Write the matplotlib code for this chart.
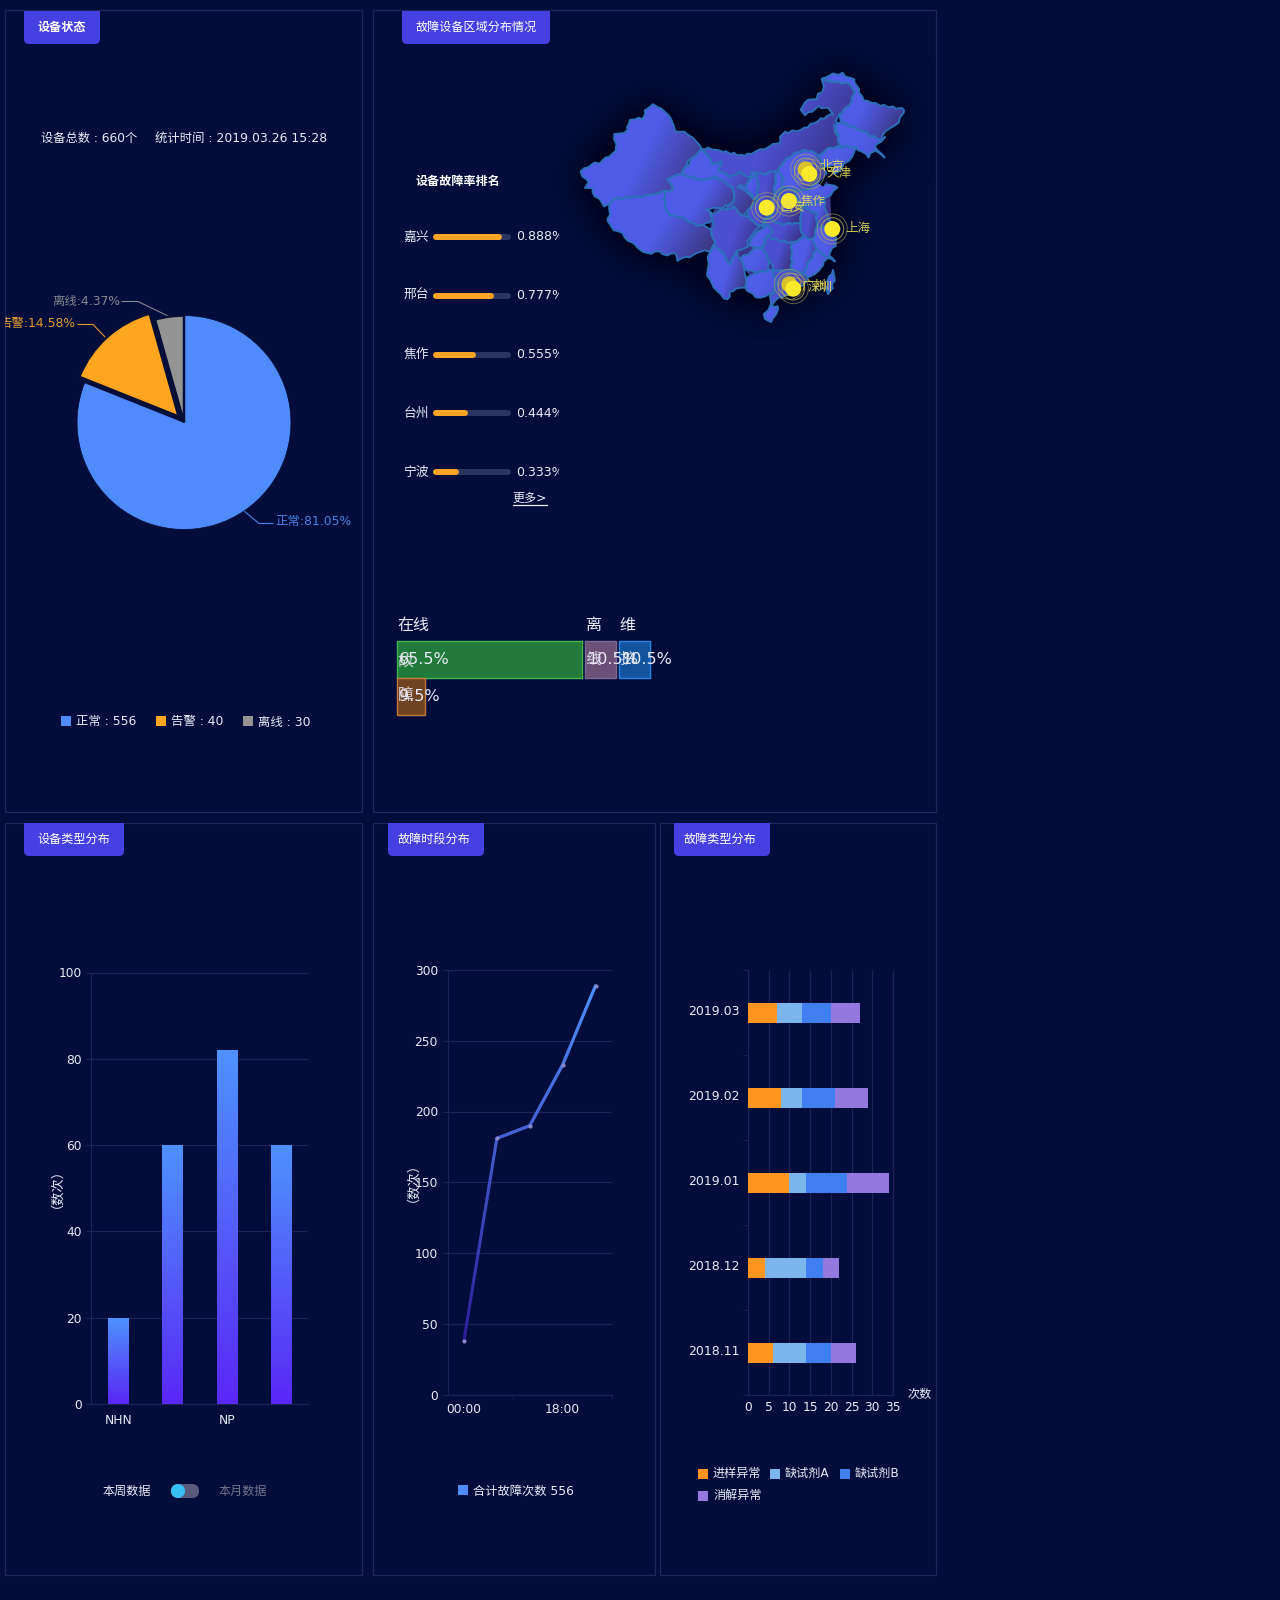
#!/usr/bin/env python3
# -*- coding: utf-8 -*-
import numpy as np
import matplotlib
matplotlib.use("Agg")
import matplotlib.pyplot as plt
from matplotlib.collections import LineCollection
from matplotlib.colors import LinearSegmentedColormap
from matplotlib.patches import Circle, FancyBboxPatch, Polygon, Rectangle
from matplotlib.path import Path

plt.rcParams['font.family'] = ['DejaVu Sans', 'Noto Sans CJK SC']

# pie
status_names = ['正常', '告警', '离线']
status_pct = [81.05, 14.58, 4.37]
status_counts = [556, 40, 30]
status_colors = ['#4f8bfa', '#ffa51f', '#949494']

# failure rate ranking
rank_cities = ['嘉兴', '邢台', '焦作', '台州', '宁波']
rank_values = [0.888, 0.777, 0.555, 0.444, 0.333]

# tiles
tile_rows = [[('在线', 65.5), ('离线', 10.5), ('维护', 10.5)], [('故障', 9.5)]]

# device types
type_names = ['NHN', '', 'NP', '']
type_values = [20, 60, 82, 60]

# failure time
hour_labels = ['00:00', '', '', '18:00', '']
hour_values = [38, 181, 190, 233, 289]

# failure types
months = ['2018.11', '2018.12', '2019.01', '2019.02', '2019.03']
fault_names = ['进样异常', '缺试剂A', '缺试剂B', '消解异常']
fault_colors = ['#ff951f', '#7cb5ec', '#3f7ff0', '#9478dd']
fault_a = [6, 4, 10, 8, 7]
fault_b = [8, 10, 4, 5, 6]
fault_c = [6, 4, 10, 8, 7]
fault_d = [6, 4, 10, 8, 7]

# map outlines, traced by hand in map units (1 unit = 1/3 px)
provinces = {
    'xinjiang': [(65, 365), (95, 342), (120, 338), (170, 305), (163, 255), (200, 242), (210, 208), (250, 205), (257, 180), (280, 162), (315, 185), (340, 215), (342, 242), (385, 250), (410, 275), (423, 298), (400, 325), (385, 335), (363, 372), (325, 385), (340, 418), (315, 425), (285, 430), (260, 438), (210, 442), (175, 445), (150, 462), (135, 468), (105, 440), (95, 418), (75, 415), (85, 400), (70, 382)],
    'tibet': [(150, 462), (175, 445), (210, 442), (260, 438), (285, 430), (315, 425), (313, 460), (330, 495), (375, 505), (410, 528), (430, 525), (455, 540), (463, 580), (450, 605), (420, 602), (400, 615), (355, 630), (345, 610), (310, 615), (300, 605), (260, 610), (235, 595), (195, 560), (175, 545), (150, 530), (140, 515), (150, 495), (145, 475)],
    'qinghai': [(325, 385), (363, 372), (430, 392), (465, 378), (515, 410), (525, 440), (510, 465), (475, 475), (445, 478), (460, 510), (430, 525), (410, 528), (375, 505), (330, 495), (313, 460), (315, 425), (340, 418)],
    'gansu': [(363, 372), (390, 335), (423, 298), (445, 315), (455, 345), (485, 332), (477, 360), (510, 382), (540, 368), (575, 385), (555, 408), (590, 452), (565, 480), (548, 495), (520, 472), (497, 478), (510, 465), (525, 440), (515, 410), (465, 378), (430, 392)],
    'neimeng': [(423, 298), (445, 295), (555, 318), (600, 300), (660, 275), (665, 250), (720, 240), (780, 208), (822, 190), (800, 175), (775, 170), (735, 195), (722, 182), (735, 155), (770, 145), (790, 115), (788, 90), (810, 92), (860, 100), (885, 120), (870, 165), (835, 195), (828, 222), (835, 270), (845, 290), (800, 295), (775, 315), (745, 300), (700, 310), (650, 360), (615, 372), (590, 368), (575, 385), (540, 368), (510, 382), (477, 360), (485, 332), (455, 345), (445, 315)],
    'heilongjiang': [(790, 88), (810, 75), (845, 70), (880, 90), (895, 120), (910, 150), (960, 165), (1035, 178), (1015, 215), (1000, 225), (970, 255), (960, 270), (930, 255), (890, 235), (840, 215), (835, 195), (870, 165), (885, 120), (860, 100), (810, 95)],
    'jilin': [(820, 228), (840, 215), (890, 235), (930, 255), (960, 270), (972, 262), (945, 292), (972, 320), (942, 300), (925, 325), (905, 305), (885, 290), (845, 290), (835, 270)],
    'liaoning': [(775, 315), (800, 295), (845, 290), (885, 290), (880, 322), (850, 345), (825, 375), (812, 350), (785, 345)],
    'hebei': [(650, 360), (700, 310), (745, 300), (775, 315), (785, 345), (800, 375), (775, 400), (740, 420), (700, 420), (665, 412), (670, 385)],
    'shanxi': [(650, 360), (670, 385), (665, 412), (655, 440), (640, 440), (645, 400)],
    'shandong': [(740, 420), (775, 400), (805, 405), (835, 410), (790, 450), (725, 470), (700, 420)],
    'shaanxi': [(590, 368), (615, 372), (650, 360), (645, 400), (640, 440), (625, 460), (640, 490), (600, 530), (565, 500), (565, 480), (590, 452), (595, 420)],
    'ningxia': [(555, 408), (575, 385), (575, 365), (590, 368), (595, 420), (590, 452), (565, 430), (532, 408)],
    'henan': [(640, 440), (665, 412), (700, 420), (725, 470), (720, 520), (660, 522), (620, 500), (640, 490), (625, 460)],
    'sichuan': [(440, 480), (460, 490), (497, 478), (520, 472), (548, 495), (565, 500), (600, 530), (570, 560), (560, 590), (530, 600), (510, 640), (490, 610), (465, 590), (450, 605), (463, 580), (455, 540), (460, 510)],
    'chongqing': [(570, 565), (600, 540), (625, 525), (640, 540), (620, 560), (605, 595), (585, 595), (565, 585)],
    'guizhou': [(540, 625), (570, 605), (590, 590), (610, 595), (625, 625), (625, 660), (590, 668), (550, 655)],
    'yunnan': [(450, 605), (465, 590), (490, 610), (510, 640), (530, 605), (540, 625), (550, 655), (560, 680), (555, 710), (510, 725), (505, 750), (480, 735), (455, 705), (440, 680), (445, 660), (445, 625)],
    'hubei': [(600, 530), (620, 500), (660, 522), (720, 520), (730, 560), (695, 578), (650, 570), (625, 560), (640, 540), (625, 525)],
    'hunan': [(620, 560), (650, 570), (695, 578), (695, 660), (640, 662), (625, 625), (610, 595)],
    'jiangxi': [(695, 578), (730, 560), (760, 570), (770, 600), (745, 640), (730, 670), (695, 660)],
    'anhui': [(725, 470), (770, 490), (770, 530), (760, 570), (730, 560), (720, 520)],
    'jiangsu': [(725, 470), (790, 450), (805, 505), (815, 530), (770, 530), (770, 490)],
    'zhejiang': [(770, 530), (815, 530), (830, 575), (805, 618), (828, 634), (800, 622), (770, 600), (760, 570)],
    'fujian': [(770, 600), (800, 622), (780, 660), (745, 685), (730, 670), (745, 640)],
    'guangxi': [(560, 680), (590, 668), (625, 660), (640, 662), (650, 700), (640, 730), (590, 745), (555, 710)],
    'guangdong': [(640, 662), (695, 660), (730, 670), (745, 685), (700, 730), (655, 745), (630, 772), (632, 740), (650, 700)],
    'hainan': [(612, 790), (630, 770), (655, 768), (650, 790), (630, 815), (615, 808)],
    'taiwan': [(800, 725), (805, 680), (822, 660), (825, 680), (812, 725), (805, 733)],
}
bright_regions = ['ningxia', 'chongqing', 'guizhou', 'hainan', 'taiwan', 'shanxi', 'shandong', 'zhejiang', 'fujian', 'guangxi', 'liaoning', 'jilin']
dark_regions = ['hunan', 'hubei', 'shaanxi', 'henan', 'anhui', 'neimeng', 'sichuan', 'guangdong']
bohai = [(812, 350), (825, 345), (810, 372), (790, 410), (775, 400), (800, 375)]
map_backing = [(480, 400), (650, 350), (780, 340), (810, 420), (815, 530), (770, 620), (700, 700), (590, 700), (520, 620), (450, 530)]

# map points
city_names = ['北京', '天津', '焦作', '西安', '上海', '广州', '深圳']
city_x = [737, 748, 687, 620, 817, 688, 700]
city_y = [358, 372, 453, 473, 537, 703, 716]
city_label_x = [780, 798, 722, 662, 855, 724, 742]
city_label_y = [350, 371, 453, 472, 535, 708, 714]

BG = '#020d3b'
LINE = '#1d2358'
TXT = '#e8eaf6'

fig = plt.figure(figsize=(12.8, 16), dpi=100, facecolor=BG)
W, H = 1280.0, 1600.0


def px_axes(l, t, r, b, **kw):
    ax = fig.add_axes([l / W, 1 - b / H, (r - l) / W, (b - t) / H], **kw)
    ax.patch.set_alpha(0)
    return ax


def style_axes(ax):
    for s in ['top', 'right']:
        ax.spines[s].set_visible(False)
    for s in ['left', 'bottom']:
        ax.spines[s].set_color(LINE)
    ax.tick_params(which='both', colors=LINE, labelcolor=TXT, labelsize=8.8)


def jag(verts):
    # roughen a traced outline; the offset depends on position only so shared borders stay together
    out = []
    n = len(verts)
    for i in range(n):
        x0, y0 = verts[i]
        x1, y1 = verts[(i + 1) % n]
        steps = max(1, int(np.hypot(x1 - x0, y1 - y0) / 11))
        for k in range(steps):
            x = x0 + (x1 - x0) * k / steps
            y = y0 + (y1 - y0) * k / steps
            out.append((x + 3.2 * np.sin(0.31 * y + 0.17 * x), y + 3.2 * np.sin(0.29 * x - 0.19 * y)))
    return out


bg = px_axes(0, 0, W, H)
bg.set_xlim(0, W)
bg.set_ylim(H, 0)
bg.axis('off')

# panels and tabs
panels = [(5, 10, 362, 811.5), (373, 10, 936, 811.5), (5, 822.5, 362, 1575), (373, 822.5, 655, 1575), (660, 822.5, 936, 1575)]
for l, t, r, b in panels:
    bg.add_patch(Rectangle((l, t), r - l, b - t, fc='none', ec='#20265c', lw=0.9))

tabs = [(24, 100, 11, '设备状态', 'bold', 0), (402, 550, 11, '故障设备区域分布情况', 'normal', 0), (24, 124, 823, '设备类型分布', 'normal', 0),
        (388, 484, 823, '故障时段分布', 'normal', -2), (674, 770, 823, '故障类型分布', 'normal', -2)]
for l, r, t, name, weight, dx in tabs:
    clip = Rectangle((l - 2, t), r - l + 4, 40, transform=bg.transData)
    tab = FancyBboxPatch((l + 5, t - 12), r - l - 10, 40, boxstyle='round,pad=5', fc='#4540e2', ec='none')
    bg.add_patch(tab)
    tab.set_clip_path(clip)
    bg.text((l + r) / 2 + dx, t + 16.5, name, color='white', fontsize=8.7, ha='center', va='center', fontweight=weight)

# device status
bg.text(41, 138, '设备总数 : 660个', color=TXT, fontsize=8.8, va='center')
bg.text(155, 138, '统计时间 : 2019.03.26 15:28', color=TXT, fontsize=8.9, va='center')

ax_pie = px_axes(184 - 139, 422.5 - 139, 184 + 139, 422.5 + 139)
wedges, _ = ax_pie.pie(status_pct, colors=status_colors, startangle=90, counterclock=False, radius=1,
                       explode=[0, 0.075, 0], wedgeprops={'edgecolor': '#080f36', 'linewidth': 1.8})
wedges[0].set_edgecolor(BG)
wedges[0].set_linewidth(0.5)
ax_pie.set_xlim(-1.3, 1.3)
ax_pie.set_ylim(-1.3, 1.3)
ax_pie.set_aspect('equal')

label_colors = ['#4a80e4', '#e39a30', '#85858f']
label_lines = [[(244, 511), (259, 523.5), (273, 523.5)], [(78, 324.5), (93, 324.5), (106, 338)], [(122, 301.5), (138, 301.5), (168, 316)]]
label_pos = [(275, 522, 'left'), (75, 324, 'right'), (120, 301, 'right')]
panel_clip = Rectangle((5, 10), 357, 800, transform=bg.transData)
for i in range(3):
    xs, ys = zip(*label_lines[i])
    bg.plot(xs, ys, color=label_colors[i], lw=0.8)
    t = bg.text(label_pos[i][0], label_pos[i][1], '%s:%.2f%%' % (status_names[i], status_pct[i]), color=label_colors[i],
                fontsize=8.9, ha=label_pos[i][2], va='center', clip_on=True)
    t.set_clip_path(panel_clip)

legend_x = [61, 156, 243]
for i in range(3):
    bg.add_patch(Rectangle((legend_x[i], 716), 10, 10, fc=status_colors[i], ec='none'))
    bg.text(legend_x[i] + 15, 722, '%s : %d' % (status_names[i], status_counts[i]), color=TXT, fontsize=8.9, va='center')

# ranking
bg.text(416, 181, '设备故障率排名', color='white', fontsize=8.7, fontweight='bold', va='center')
ax_rank = px_axes(433, 207.5, 511, 501.5)
ax_rank.set_xlim(0, 1)
ax_rank.set_ylim(4.5, -0.5)
ax_rank.axis('off')
rank_clip = Rectangle((380, 200), 179, 310, transform=bg.transData)
cap = 3.0 / 78
for i, v in enumerate(rank_values):
    ax_rank.plot([cap, 1 - cap], [i, i], color='#2b3562', lw=4.3, solid_capstyle='round')
    ax_rank.plot([cap, v - cap], [i, i], color='#ffa526', lw=4.3, solid_capstyle='round')
    ax_rank.text(-0.055, i, rank_cities[i], color=TXT, fontsize=9.2, ha='right', va='center')
    t = ax_rank.text(1.065, i, '%.3f%%' % v, color=TXT, fontsize=9, va='center', clip_on=True)
    t.set_clip_path(rank_clip)
bg.text(512.5, 498.5, '更多>', color=TXT, fontsize=8.7, va='center')
bg.plot([513, 547], [504.5, 504.5], color=TXT, lw=0.9)

# map
ax_map = px_axes(540, 30, 936, 340)
mx0, mx1, my0, my1 = -60, 1128, 870, -60
gx, gy = np.meshgrid(np.linspace(mx0, mx1, 240), np.linspace(my1, my0, 190))
pts = np.column_stack([gx.ravel(), gy.ravel()])
mask = np.zeros(gx.shape)
for verts in provinces.values():
    mask = np.maximum(mask, Path(verts + [verts[0]]).contains_points(pts).reshape(gx.shape).astype(float))
kx = np.exp(-0.5 * (np.arange(-42, 43) / 14.0) ** 2)
kx = kx / kx.sum()
glow = np.apply_along_axis(lambda r: np.convolve(r, kx, mode='same'), 1, mask)
glow = np.apply_along_axis(lambda r: np.convolve(r, kx, mode='same'), 0, glow)
rgba = np.zeros(gx.shape + (4,))
rgba[..., :3] = np.array([0, 3, 30]) / 255.0
rgba[..., 3] = np.clip(glow * 2.2, 0, 0.92)
ax_map.imshow(rgba, extent=(mx0, mx1, my0, my1), origin='upper', aspect='auto', zorder=1, interpolation='bilinear')
ax_map.add_patch(Polygon(map_backing, closed=True, fc='#3b3590', ec='none', zorder=1.5))

ramp = np.linspace(0, 1, 200)
gx2, gy2 = np.meshgrid(ramp, ramp)
for name, verts in provinces.items():
    rough = jag(verts)
    xs = [p[0] for p in rough]
    ys = [p[1] for p in rough]
    if name in bright_regions:
        low, high = '#4f5ee8', '#4a4fd0'
    elif name in dark_regions:
        low, high = '#4a50cf', '#352a6e'
    else:
        low, high = '#4f5ce8', '#38306f'
    cmap = LinearSegmentedColormap.from_list(name, [low, low, high])
    ax_map.add_patch(Polygon(rough, closed=True, fc='none', ec='#2d70ba', lw=1.35, zorder=3, joinstyle='round'))
    im = ax_map.imshow(0.7 * gx2 + 0.3 * gy2, extent=(min(xs), max(xs), max(ys), min(ys)), cmap=cmap, origin='upper',
                       aspect='auto', zorder=2, vmin=0, vmax=1)
    im.set_clip_path(Polygon(rough, closed=True, transform=ax_map.transData))
ax_map.add_patch(Polygon(bohai, closed=True, fc='#00041c', ec='none', zorder=3))

for i in range(len(city_names)):
    ax_map.add_patch(Circle((city_x[i], city_y[i]), 34, fc='none', ec='#b5ab58', lw=0.8, alpha=0.75, zorder=4))
    ax_map.add_patch(Circle((city_x[i], city_y[i]), 45, fc='none', ec='#b5ab58', lw=0.7, alpha=0.55, zorder=4))
    shade = '#d9c22c' if city_names[i] in ('北京', '广州') else '#f8ea2a'
    ax_map.add_patch(Circle((city_x[i], city_y[i]), 24, fc=shade, ec='none', zorder=5))
    ax_map.text(city_label_x[i], city_label_y[i], city_names[i], color='#e6da55', fontsize=9, va='center', zorder=6, alpha=0.9)
ax_map.set_xlim(mx0, mx1)
ax_map.set_ylim(my0, my1)
ax_map.axis('off')

# tiles, x axis in px: width follows 2.8 px per percent plus a fixed 1.6 px
ax_tile = px_axes(397, 641, 697, 715)
ax_tile.set_xlim(0, 300)
ax_tile.set_ylim(2, 0)
ax_tile.axis('off')
tile_fill = {'在线': ('#217a3a', '#3fb84c'), '离线': ('#6a4f76', '#7a6a98'), '维护': ('#11539c', '#2b86e6'), '故障': ('#6f4220', '#c87a3a')}
for row, tiles in enumerate(tile_rows):
    left = 0
    for name, val in tiles:
        fc, ec = tile_fill[name]
        width = 2.8 * val + 1.6
        ax_tile.barh(row + 0.5, width, height=1, left=left, color=fc, edgecolor=ec, linewidth=1.0, clip_on=False)
        ax_tile.text(left + 2, row + 0.5, '%.1f%%' % val, color=TXT, fontsize=11.5, va='center', zorder=5, clip_on=False)
        if row == 0:
            big = name == '在线'
            ax_tile.text(left + 0.5, -0.43, name if big else name[0], color=TXT, fontsize=11.5, va='center', clip_on=False)
            if not big:
                ax_tile.text(left + 0.5, 0.5, name[1], color=TXT, fontsize=11.5, va='center', zorder=4, alpha=0.8)
        else:
            ax_tile.text(left + 0.5, 0.55, name[0], color=TXT, fontsize=11.5, va='center', zorder=4, alpha=0.8)
            ax_tile.text(left + 0.5, 1.48, name[1], color=TXT, fontsize=11.5, va='center', zorder=4, alpha=0.8)
        left += width + 3

# device type bars
ax_bar = px_axes(91, 972.5, 308, 1404)
style_axes(ax_bar)
ax_bar.set_xlim(-0.5, 3.5)
ax_bar.set_ylim(0, 100)
ax_bar.set_xticks(range(4))
ax_bar.set_xticklabels(type_names)
ax_bar.set_yticks(range(0, 101, 20))
ax_bar.tick_params(axis='x', which='major', length=0, pad=7)
ax_bar.tick_params(axis='y', length=3.4, pad=3)
ax_bar.set_xticks([1, 3], minor=True)
ax_bar.tick_params(axis='x', which='minor', length=3)
ax_bar.yaxis.grid(True, color=LINE, lw=0.9)
ax_bar.set_axisbelow(True)
bar_cmap = LinearSegmentedColormap.from_list('bar', ['#4e92ff', '#5a28f5'])
grad = np.linspace(0, 1, 128).reshape(-1, 1)
bars = ax_bar.bar(range(4), type_values, width=0.37, color='none', zorder=2)
for b in bars:
    im = ax_bar.imshow(grad, extent=(b.get_x(), b.get_x() + b.get_width(), 0, b.get_height()), cmap=bar_cmap, aspect='auto', origin='upper', zorder=2)
    im.set_clip_path(b)
ax_bar.set_xlim(-0.5, 3.5)
ax_bar.set_ylim(0, 100)
bg.text(50, 1182, '（数次）', color=TXT, fontsize=9.5, rotation=90, ha='center', va='center')

bg.text(103, 1491, '本周数据', color=TXT, fontsize=8.7, va='center')
bg.add_patch(FancyBboxPatch((171, 1484), 28, 14, boxstyle='round,pad=0,rounding_size=7', fc='#5a5a7c', ec='none'))
bg.add_patch(Circle((178, 1491), 7, fc='#37c0f6', ec='none'))
bg.text(219, 1491, '本月数据', color='#72748c', fontsize=8.7, va='center')

# failure time line
ax_line = px_axes(447.5, 970, 612, 1394.5)
style_axes(ax_line)
ax_line.set_xlim(-0.5, 4.5)
ax_line.set_ylim(0, 300)
ax_line.set_xticks(range(5))
ax_line.set_xticklabels(hour_labels)
ax_line.set_yticks(range(0, 301, 50))
ax_line.tick_params(axis='x', which='major', length=0, pad=6)
ax_line.tick_params(axis='y', length=3.4, pad=3.5)
ax_line.set_xticks([1.5, 4.5], minor=True)
ax_line.tick_params(axis='x', which='minor', length=3)
ax_line.yaxis.grid(True, color=LINE, lw=0.9)
ax_line.set_axisbelow(True)
line_cmap = LinearSegmentedColormap.from_list('line', ['#2f1f96', '#4f8ff8'])
seg_x, seg_y = [], []
for i in range(len(hour_values) - 1):
    seg_x.extend(np.linspace(i, i + 1, 30, endpoint=False))
    seg_y.extend(np.linspace(hour_values[i], hour_values[i + 1], 30, endpoint=False))
seg_x.append(len(hour_values) - 1)
seg_y.append(hour_values[-1])
seg_pts = np.column_stack([seg_x, seg_y])
segs = np.stack([seg_pts[:-1], seg_pts[1:]], axis=1)
lc = LineCollection(segs, cmap=line_cmap, linewidths=2.2, capstyle='round', zorder=3)
lc.set_array(seg_pts[:-1, 1])
lc.set_clim(min(hour_values), max(hour_values))
ax_line.add_collection(lc)
ax_line.scatter(range(5), hour_values, s=9, color='#8486c8', zorder=4, linewidths=0)
bg.text(406, 1175, '（数次）', color=TXT, fontsize=9.5, rotation=90, ha='center', va='center')
bg.add_patch(Rectangle((458, 1485), 10, 10, fc='#4f8bfa', ec='none'))
bg.text(473, 1491, '合计故障次数 556', color=TXT, fontsize=8.8, va='center')

# failure types
ax_h = px_axes(748, 970.5, 893, 1395)
style_axes(ax_h)
ax_h.set_xlim(0, 35)
ax_h.set_ylim(-0.5, 4.5)
ax_h.set_yticks([])
ax_h.set_xticks(range(0, 36, 5))
ax_h.tick_params(axis='x', which='major', length=0, pad=4)
ax_h.set_yticks(np.arange(-0.5, 4.6, 1), minor=True)
ax_h.tick_params(axis='y', which='minor', length=3.6)
ax_h.xaxis.grid(True, color=LINE, lw=0.9)
ax_h.axvline(35, color=LINE, lw=0.9, clip_on=False)
ax_h.set_axisbelow(True)
for i, m in enumerate(months):
    ax_h.text(-0.058, i + 0.018, m, transform=ax_h.get_yaxis_transform(), color=TXT, fontsize=9, ha='right', va='center')
left = np.zeros(5)
for vals, col, name in zip([fault_a, fault_b, fault_c, fault_d], fault_colors, fault_names):
    ax_h.barh(range(5), vals, left=left, height=0.235, color=col, label=name, zorder=3)
    left = left + np.array(vals)
bg.text(907, 1394.5, '次数', color=TXT, fontsize=8.7, va='center')

fault_legend = [(698, 1473.5), (770, 1473.5), (840, 1473.5), (698, 1496)]
for (x, y), col, name in zip(fault_legend, fault_colors, fault_names):
    bg.add_patch(Rectangle((x, y - 5), 10, 10, fc=col, ec='none'))
    bg.text(x + 15, y - 0.5, name, color=TXT, fontsize=8.7, va='center')

fig.savefig('out.png', dpi=100, facecolor=BG)
